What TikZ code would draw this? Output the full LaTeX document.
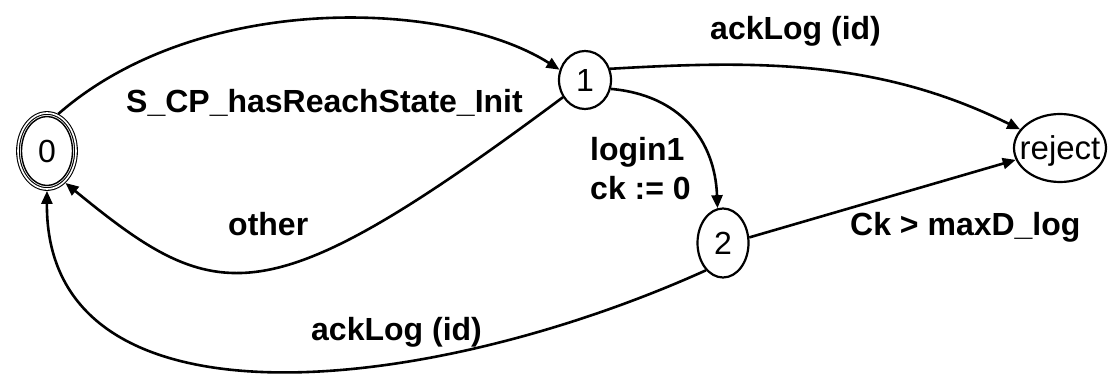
\documentclass[tikz,border=0pt]{standalone}
\usepackage{fontspec}
\setmainfont{Liberation Sans}
\usetikzlibrary{shapes.geometric,arrows.meta}
% zero-size state label, lowered so the glyphs sit in the middle of the state
\newcommand\statetext[2]{\makebox[0pt]{\raisebox{#1}[0pt][0pt]{#2}}}

\begin{document}
\begin{tikzpicture}[x=1pt,y=-1pt,
  state/.style={ellipse, draw, line width=2.2pt, inner sep=0pt,
    font=\fontsize{32}{38}\selectfont},
  edge/.style={line width=2.6pt, -{Triangle[length=13pt,width=11pt]}},
  lbl/.style={font=\fontsize{32}{38}\selectfont\bfseries, inner sep=0pt,
    anchor=base west}]
\useasboundingbox (0,0) rectangle (1110,374);

% states
\node[state, minimum width=58pt, minimum height=76pt, line width=1.1pt,
      double, double distance=1.6pt, outer sep=1.9pt] (n0) at (47,151)
      {\statetext{-11.5pt}{0}};
\draw[line width=1.4pt] (n0.center) ellipse [x radius=25.5pt, y radius=34.5pt];
\node[state, minimum width=52pt, minimum height=58pt] (n1) at (585,80)
      {\statetext{-11.5pt}{1}};
\node[state, minimum width=51pt, minimum height=69pt] (n2) at (723,243)
      {\statetext{-11.5pt}{2}};
\node[state, minimum width=92pt, minimum height=68pt,
      font=\fontsize{33}{38}\selectfont] (nr) at (1060,148)
      {\statetext{-12pt}{reject}};

% transitions
\draw[edge] (n0.73) .. controls (200,-10) and (450,0) .. (n1.158);
\draw[edge] (n1.218) .. controls (265,319) and (218,308) .. (n0.-60);
\draw[edge] (n1.24) .. controls (760,60) and (880,60) .. (nr.155);
\draw[edge] (n1.-19) .. controls (680,95) and (715,140) .. (n2.99);
\draw[edge] (n2.-122) .. controls (430,395) and (45,440) .. (n0.south);
\draw[edge] (n2.12) -- (nr.195);

% transition labels
\node[lbl] (l1) at (126,113) {S\_CP\_hasReachState\_Init};
\node[lbl] (l2) at (228,235) {other};
\node[lbl] (l3) at (311,340) {ackLog (id)};
\node[lbl] (l4) at (710,40) {ackLog (id)};
\node[lbl, align=left] (l5) at (590,199) {login1\\ck := 0};
\node[lbl] (l6) at (850,235) {Ck > maxD\_log};
\end{tikzpicture}
\end{document}
